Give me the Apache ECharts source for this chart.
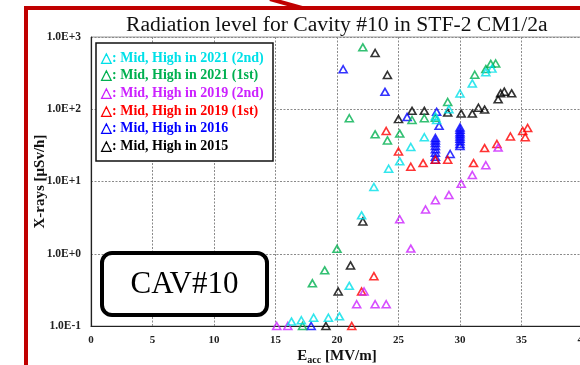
<!DOCTYPE html>
<html>
<head>
<meta charset="utf-8">
<script src="https://cdn.jsdelivr.net/npm/echarts@6/dist/echarts.min.js"></script>
<style>
  html, body { margin: 0; padding: 0; background: #fff; }
  #chart { width: 580px; height: 365px; }
</style>
</head>
<body>
<div id="chart"></div>
<script>
const SERIF = '"Liberation Serif", "Times New Roman", Times, serif';

// Legend order (top to bottom) and the colour of each measurement run
const seriesNames = [
  'Mid, High in 2021 (2nd)',
  'Mid, High in 2021 (1st)',
  'Mid, High in 2019 (2nd)',
  'Mid, High in 2019 (1st)',
  'Mid, High in 2016',
  'Mid, High in 2015'
];
const seriesColors = ['#00e0e8', '#00b050', '#cc22ff', '#ff0000', '#0000ff', '#000000'];

// Each point: [Eacc (MV/m), X-ray dose rate (uSv/h)]
const run2021b = [[16.3,0.115],[17.1,0.12],[18.1,0.13],[19.3,0.13],[20.2,0.136],[21.0,0.36],[22.0,3.4],[23.0,8.4],[24.2,15],[25.1,19],[26.0,30],[27.1,41],[28.0,80],[28.1,71],[29.1,100],[30.0,165],[31.0,228],[32.1,325],[32.6,365]];
const run2021a = [[17.2,0.1],[18.0,0.39],[19.0,0.59],[20.0,1.17],[21.0,75],[22.1,720],[23.1,45],[24.1,37],[25.1,46],[26.1,71],[27.1,75],[28.0,76],[29.0,126],[31.2,300],[32.1,360],[32.5,425],[32.9,430]];
const run2019b = [[15.1,0.1],[16.0,0.1],[21.6,0.2],[22.2,0.3],[23.1,0.2],[24.0,0.2],[25.1,3.0],[26.0,1.18],[27.2,4.1],[28.0,5.5],[29.1,6.5],[30.1,9.3],[31.0,12.3],[32.1,16.8],[33.1,29.5]];
const run2019a = [[21.2,0.1],[22.0,0.3],[23.0,0.49],[24.0,50],[25.0,26],[26.0,16],[27.0,18],[28.0,20],[29.0,20],[31.1,18],[32.0,29],[33.0,33],[34.1,42],[35.1,50],[35.5,55],[35.3,41]];
const run2016 = [[17.9,0.1],[20.5,358],[23.9,174],[25.7,78],[28.1,92],[28.3,59],[28.0,40],[28.0,37],[28.0,34],[28.0,31],[28.0,28],[28.0,25],[28.0,22],[28.0,20],[29.2,24],[30.0,56],[30.0,52],[30.0,48],[30.0,45],[30.0,42],[30.0,39],[30.0,36],[30.0,33],[30.0,31]];
const run2015 = [[19.1,0.1],[20.1,0.3],[21.1,0.69],[22.1,2.8],[23.1,600],[24.1,298],[25.0,73],[26.1,95],[27.1,95],[29.0,90],[30.1,87],[31.0,87],[31.5,105],[32.0,99],[33.1,137],[33.3,166],[33.6,175],[34.2,166]];

const runData = [run2021b, run2021a, run2019b, run2019a, run2016, run2015];

// Decade labels of the log axis, from 0.1 up to 1000
const yTickLabels = ['1.0E-1', '1.0E+0', '1.0E+1', '1.0E+2', '1.0E+3'];

const chart = echarts.init(document.getElementById('chart'), null, { renderer: 'canvas' });

// older runs first so the newest sit on top
const drawOrder = [5, 4, 3, 2, 1, 0];
const series = drawOrder.map(i => ({
  name: seriesNames[i],
  type: 'scatter',
  clip: false,
  symbol: 'triangle',
  symbolSize: [8, 7],
  itemStyle: { color: 'rgba(0,0,0,0)', borderColor: seriesColors[i], borderWidth: 1.6 },
  emphasis: { disabled: true },
  data: runData[i]
}));

const gridLine = { show: true, lineStyle: { color: '#8a8a8a', width: 1, type: [2, 1.5] } };

chart.setOption({
  animation: false,
  backgroundColor: '#fff',
  title: {
    text: 'Radiation level for Cavity #10 in STF-2 CM1/2a',
    left: 121,
    top: 9,
    textStyle: { fontFamily: SERIF, fontWeight: 'normal', fontSize: 21.6, color: '#111' }
  },
  grid: {
    left: 91, top: 37, width: 492, height: 289,
    outerBoundsMode: 'none',
    show: true, borderColor: '#9a9a9a', borderWidth: 1, backgroundColor: 'transparent'
  },
  xAxis: {
    type: 'value', min: 0, max: 40, interval: 5,
    axisLine: { show: true, onZero: false, lineStyle: { color: '#222', width: 1.2 } },
    axisTick: { show: false },
    splitLine: gridLine,
    axisLabel: { fontFamily: SERIF, fontWeight: 'bold', fontSize: 11, color: '#222', margin: 9 },
    name: '{b|E}{s|acc}{b| [MV/m]}',
    nameLocation: 'middle',
    nameMoveOverlap: false,
    nameGap: 21,
    nameTextStyle: {
      rich: {
        b: { fontFamily: SERIF, fontWeight: 'bold', fontSize: 15, color: '#111' },
        s: { fontFamily: SERIF, fontWeight: 'bold', fontSize: 10, color: '#111', padding: [8, 0, 0, 0] }
      }
    }
  },
  yAxis: {
    type: 'log', logBase: 10, min: 0.1, max: 1000,
    axisLine: { show: true, lineStyle: { color: '#222', width: 1.2 } },
    axisTick: { show: false },
    splitLine: gridLine,
    axisLabel: {
      fontFamily: SERIF, fontWeight: 'bold', fontSize: 11.5, color: '#222', margin: 10,
      formatter: v => yTickLabels[Math.round(Math.log10(v)) + 1]
    },
    name: 'X-rays [μSv/h]',
    nameLocation: 'middle',
    nameMoveOverlap: false,
    nameGap: 43,
    nameTextStyle: { fontFamily: SERIF, fontWeight: 'bold', fontSize: 15, color: '#111' }
  },
  legend: {
    orient: 'vertical',
    left: 96, top: 43,
    padding: [8, 4, 7, 0],
    icon: 'none',
    itemWidth: 0, itemHeight: 14, itemGap: 3.7,
    selectedMode: false,
    z: 12,
    formatter: n => '△: ' + n,
    textStyle: { fontFamily: SERIF, fontWeight: 'bold', fontSize: 14 },
    data: seriesNames.map((n, i) => ({ name: n, textStyle: { color: seriesColors[i] } }))
  },
  graphic: [
    // legend frame
    { type: 'rect', z: 10, shape: { x: 96, y: 43, width: 177, height: 118 },
      style: { fill: '#fff', stroke: '#111', lineWidth: 1.5 } },
    // cavity tag
    { type: 'rect', z: 10, shape: { x: 102, y: 253, width: 165, height: 62, r: 10 },
      style: { fill: '#fff', stroke: '#000', lineWidth: 4 } },
    { type: 'text', z: 11, x: 184.5, y: 285,
      style: { text: 'CAV#10', fill: '#000', font: '31px ' + SERIF, textAlign: 'center', textVerticalAlign: 'middle' } },
    // red slide frame
    { type: 'polyline', z: 20, shape: { points: [[26, 365], [26, 8], [580, 8]] },
      style: { stroke: '#c00000', lineWidth: 4, fill: null } },
    { type: 'line', z: 20, shape: { x1: 270, y1: -1, x2: 302, y2: 8 },
      style: { stroke: '#c00000', lineWidth: 4 } }
  ],
  series: series
});
</script>
</body>
</html>
